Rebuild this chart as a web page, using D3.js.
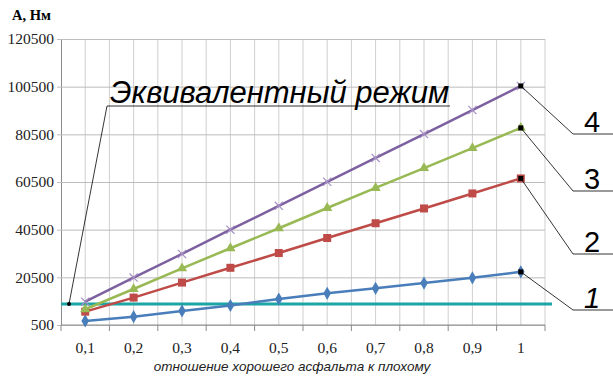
<!DOCTYPE html>
<html>
<head>
<meta charset="utf-8">
<title>A, Нм</title>
<script src="https://d3js.org/d3.v7.min.js"></script>
<style>
  body { margin: 0; background: #fff; }
  svg { display: block; }
  .tick text { font-family: "Liberation Serif", serif; font-size: 15.5px; fill: #222; }
</style>
</head>
<body>
<svg id="chart" width="613" height="377"></svg>
<script>
// data
var ratios = ["0,1", "0,2", "0,3", "0,4", "0,5", "0,6", "0,7", "0,8", "0,9", "1"];
var yTicks = [500, 20500, 40500, 60500, 80500, 100500, 120500];
var series1 = [2200, 4000, 6400, 8700, 11400, 13800, 15900, 18100, 20300, 22800];
var series2 = [6100, 12000, 18300, 24500, 30700, 37000, 43200, 49400, 55700, 62000];
var series3 = [7100, 15600, 24300, 32700, 41100, 49600, 58000, 66300, 74700, 83200];
var series4 = [10300, 20400, 30300, 40500, 50500, 60600, 70600, 80600, 90700, 100800];
var equivLevel = 9300;
var seriesNames = ["1", "2", "3", "4"];

var svg = d3.select("#chart");
var plotL = 61, plotR = 545, plotT = 39, plotB = 325;

var x = d3.scaleBand().domain(ratios).range([plotL, plotR]).paddingInner(0).paddingOuter(0);
var y = d3.scaleLinear().domain([500, 120500]).range([plotB, plotT]);
var cx = function(c) { return x(c) + x.bandwidth() / 2; };

// grid: vertical lines at band edges and centres
var vlines = [];
ratios.forEach(function(c) { vlines.push(x(c) + x.bandwidth() / 2); vlines.push(x(c) + x.bandwidth()); });
svg.append("g").selectAll("line").data(vlines).join("line")
  .attr("x1", function(d) { return d; }).attr("x2", function(d) { return d; })
  .attr("y1", plotT).attr("y2", plotB)
  .attr("stroke", "#cfcfcf").attr("stroke-width", 1);

// y axis with gridlines
var yAxis = svg.append("g").attr("transform", "translate(" + plotL + ",0)")
  .call(d3.axisLeft(y).tickValues(yTicks).tickSize(-(plotR - plotL)).tickSizeOuter(0).tickPadding(7).tickFormat(d3.format("d")));
yAxis.select(".domain").attr("stroke", "#8c8c8c");
yAxis.selectAll(".tick line").attr("stroke", "#bdbdbd").attr("x1", -4);

// x axis: ticks at band edges, labels at centres
var xAxis = svg.append("g").attr("transform", "translate(0," + plotB + ")");
xAxis.append("line").attr("x1", plotL).attr("x2", plotR).attr("stroke", "#8c8c8c");
var edges = [plotL].concat(ratios.map(function(c) { return x(c) + x.bandwidth(); }));
xAxis.selectAll("line.t").data(edges).join("line").attr("class", "t")
  .attr("x1", function(d) { return d; }).attr("x2", function(d) { return d; })
  .attr("y1", 0).attr("y2", 6).attr("stroke", "#8c8c8c");
xAxis.selectAll("text").data(ratios).join("text")
  .attr("x", cx).attr("y", 28).attr("text-anchor", "middle")
  .style("font-family", "Liberation Serif, serif").style("font-size", "15.5px").attr("fill", "#222")
  .text(function(d) { return d; });

// axis titles
svg.append("text").attr("x", 12).attr("y", 20)
  .style("font-family", "Liberation Serif, serif").style("font-size", "14.5px").style("font-weight", "bold")
  .text("А, Нм");
svg.append("text").attr("x", 292).attr("y", 371).attr("text-anchor", "middle")
  .style("font-family", "Liberation Sans, Arial, sans-serif").style("font-size", "13.5px").style("font-style", "italic")
  .attr("fill", "#222")
  .text("отношение хорошего асфальта к плохому");

// equivalent mode line
svg.append("line")
  .attr("x1", plotL).attr("x2", plotR + 7)
  .attr("y1", y(equivLevel)).attr("y2", y(equivLevel))
  .attr("stroke", "#1ba5a5").attr("stroke-width", 3);

var all = [series1, series2, series3, series4];
var colors = ["#4a7ebb", "#be4b48", "#98b954", "#7d60a0"];
var line = d3.line().x(function(d, i) { return cx(ratios[i]); }).y(function(d) { return y(d); });

all.forEach(function(s, k) {
  svg.append("path").datum(s).attr("d", line)
    .attr("fill", "none").attr("stroke", colors[k]).attr("stroke-width", 2.5);
  var g = svg.append("g");
  s.forEach(function(v, i) {
    var px = cx(ratios[i]), py = y(v);
    if (k == 0) {
      g.append("path").attr("d", d3.symbol(d3.symbolDiamond, 50)()).attr("transform", "translate(" + px + "," + py + ")").attr("fill", colors[k]);
    } else if (k == 1) {
      g.append("rect").attr("x", px - 4).attr("y", py - 4).attr("width", 8).attr("height", 8).attr("fill", colors[k]);
    } else if (k == 2) {
      g.append("path").attr("d", d3.symbol(d3.symbolTriangle, 45)()).attr("transform", "translate(" + px + "," + py + ")").attr("fill", colors[k]);
    } else {
      g.append("path").attr("d", d3.symbol(d3.symbolTimes, 45)()).attr("transform", "translate(" + px + "," + py + ")")
        .attr("fill", "none").attr("stroke", "#a58fc4").attr("stroke-width", 1.2);
    }
  });
});

// callouts for the series numbers
var ann = svg.append("g").style("font-family", "Liberation Sans, Arial, sans-serif").style("font-style", "italic");
var labelY = [310, 254, 191, 134];
all.forEach(function(s, k) {
  var px = cx(ratios[9]), py = y(s[9]);
  ann.append("rect").attr("x", px - 2.5).attr("y", py - 2.5).attr("width", 5).attr("height", 5).attr("fill", "#000");
  ann.append("polyline").attr("points", [[px, py], [573, labelY[k]], [613, labelY[k]]].join(" "))
    .attr("fill", "none").attr("stroke", "#000").attr("stroke-width", 0.8);
  ann.append("text").attr("x", 592).attr("y", labelY[k] - 2).attr("text-anchor", "middle")
    .style("font-size", "29px").style("font-style", k == 0 ? "italic" : "normal").text(seriesNames[k]);
});

// "Эквивалентный режим" callout
var ex = x(ratios[0]) + 8, ey = y(equivLevel);
ann.append("circle").attr("cx", ex).attr("cy", ey).attr("r", 2).attr("fill", "#000");
ann.append("polyline").attr("points", [[ex, ey], [107, 106], [450, 106]].join(" "))
  .attr("fill", "none").attr("stroke", "#000").attr("stroke-width", 0.8);
ann.append("text").attr("x", 110).attr("y", 103)
  .style("font-size", "31px").text("Эквивалентный режим");
</script>
</body>
</html>
